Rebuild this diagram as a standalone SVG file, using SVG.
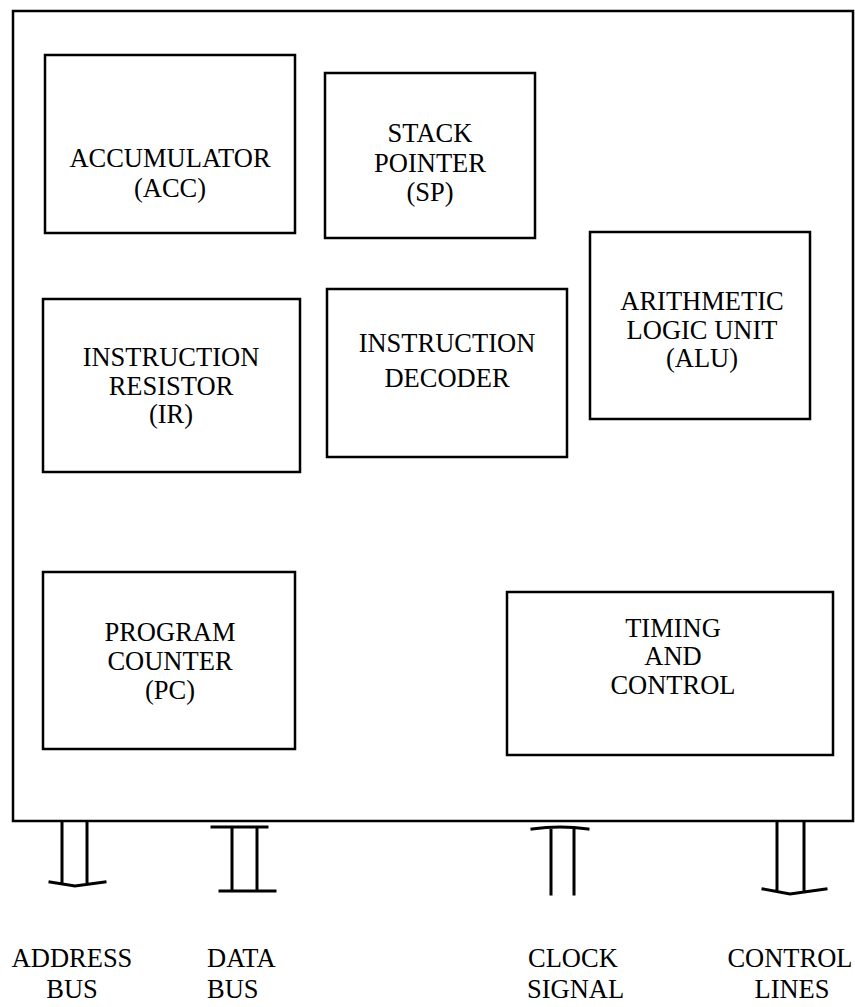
<svg xmlns="http://www.w3.org/2000/svg" width="855" height="1007" viewBox="0 0 855 1007">
<style>
.box{fill:none;stroke:#000;stroke-width:2.5}
.bus{fill:none;stroke:#000;stroke-width:3;stroke-linecap:square}
text{font-family:"Liberation Serif","Times New Roman",serif;font-size:26.5px;fill:#000}
.c{text-anchor:middle}
</style>
<rect width="855" height="1007" fill="#fff"/>
<g id="cpu">
<rect class="box" x="13" y="11" width="840" height="810"/>
</g>
<g id="acc">
<rect class="box" x="45" y="55" width="250" height="178"/>
<text class="c" x="170" y="167">ACCUMULATOR</text>
<text class="c" x="170" y="197">(ACC)</text>
</g>
<g id="sp">
<rect class="box" x="325" y="73" width="210" height="165"/>
<text class="c" x="430" y="142">STACK</text>
<text class="c" x="430" y="172">POINTER</text>
<text class="c" x="430" y="201">(SP)</text>
</g>
<g id="alu">
<rect class="box" x="590" y="232" width="220" height="187"/>
<text class="c" x="702" y="310">ARITHMETIC</text>
<text class="c" x="702" y="339">LOGIC UNIT</text>
<text class="c" x="702" y="367">(ALU)</text>
</g>
<g id="ir">
<rect class="box" x="43" y="299" width="257" height="173"/>
<text class="c" x="171" y="366">INSTRUCTION</text>
<text class="c" x="171" y="395">RESISTOR</text>
<text class="c" x="171" y="423">(IR)</text>
</g>
<g id="id">
<rect class="box" x="327" y="289" width="240" height="168"/>
<text class="c" x="447" y="352">INSTRUCTION</text>
<text class="c" x="447" y="387">DECODER</text>
</g>
<g id="pc">
<rect class="box" x="43" y="572" width="252" height="177"/>
<text class="c" x="170" y="641">PROGRAM</text>
<text class="c" x="170" y="670">COUNTER</text>
<text class="c" x="170" y="699">(PC)</text>
</g>
<g id="tc">
<rect class="box" x="507" y="592" width="326" height="163"/>
<text class="c" x="673" y="637">TIMING</text>
<text class="c" x="673" y="665">AND</text>
<text class="c" x="673" y="694">CONTROL</text>
</g>
<g id="connectors">
<path class="bus" d="M62 822 V882 M87 822 V882 M50 882 L75 886 L105 882"/>
<path class="bus" d="M212 827 H267 M232 827 V891 M257 827 V891 M220 891 H275"/>
<path class="bus" d="M532 829 Q560 825 588 829 M551 829 V894 M574 829 V894"/>
<path class="bus" d="M777 822 V889 M804 822 V889 M763 889 L790 894 L826 889"/>
</g>
<g id="labels">
<text class="c" x="72" y="967">ADDRESS</text>
<text class="c" x="72" y="998">BUS</text>
<text x="207" y="967">DATA</text>
<text x="207" y="998">BUS</text>
<text x="528" y="967">CLOCK</text>
<text x="527" y="998">SIGNAL</text>
<text class="c" x="790" y="967">CONTROL</text>
<text class="c" x="792" y="998">LINES</text>
</g>
</svg>
